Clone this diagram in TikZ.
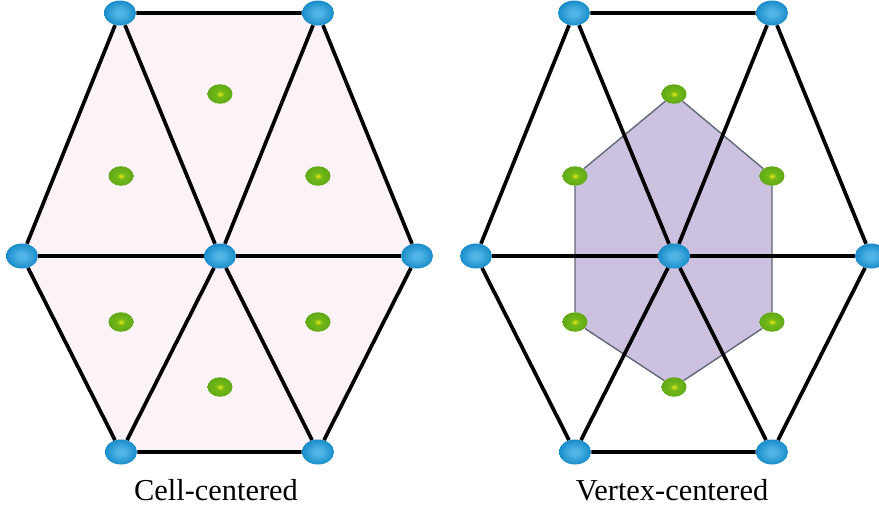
\documentclass[tikz,border=0pt]{standalone}
\usepackage{fontspec}
\setmainfont{Liberation Serif}
\usetikzlibrary{shapes.geometric,backgrounds}
\definecolor{vertexL}{RGB}{80,180,230}
\definecolor{vertexM}{RGB}{22,138,200}
\definecolor{vertexD}{RGB}{15,105,165}
\definecolor{centL}{RGB}{235,230,20}
\definecolor{centM}{RGB}{115,185,25}
\definecolor{centD}{RGB}{80,155,20}
\definecolor{centR}{RGB}{150,200,40}
\definecolor{cellfill}{RGB}{251,243,248}
\definecolor{dualfill}{RGB}{204,194,224}
\definecolor{dualedge}{RGB}{95,105,120}
\pgfdeclareradialshading{vertexball}{\pgfpoint{0bp}{0bp}}{color(0bp)=(vertexL); color(6bp)=(vertexL); color(26bp)=(vertexM); color(47bp)=(vertexD); color(50bp)=(vertexD)}
\pgfdeclareradialshading{centroidball}{\pgfpoint{0bp}{0bp}}{color(0bp)=(centL); color(8bp)=(centM); color(40bp)=(centD); color(47bp)=(centD); color(50bp)=(centR)}
\tikzset{
  vertex/.style={ellipse,minimum width=0.64cm,minimum height=0.5cm,inner sep=0pt,shading=vertexball},
  centroid/.style={ellipse,minimum width=0.5cm,minimum height=0.39cm,inner sep=0pt,shading=centroidball},
  meshline/.style={line width=2.1pt,black},
  dualline/.style={line width=0.8pt,dualedge},
  caption/.style={anchor=base,font=\fontsize{17.3}{20}\selectfont},
}

\begin{document}
\begin{tikzpicture}[x=0.02cm,y=-0.02cm]
  \useasboundingbox (0,0) rectangle (879,511);
  % mesh vertices
  \foreach \p/\dx in {a/0,b/454} {
    \node[vertex] (\p1) at (120+\dx,13)  {};
    \node[vertex] (\p2) at (318+\dx,13)  {};
    \node[vertex] (\p3) at (22+\dx,256)  {};
    \node[vertex] (\p0) at (220+\dx,256) {};
    \node[vertex] (\p4) at (417+\dx,256) {};
    \node[vertex] (\p5) at (121+\dx,452) {};
    \node[vertex] (\p6) at (318+\dx,452) {};
  }
  % cell centroids
  \foreach \p/\dx in {c/0,d/454} {
    \node[centroid] (\p1) at (220+\dx,94)  {};
    \node[centroid] (\p2) at (121+\dx,176) {};
    \node[centroid] (\p3) at (318+\dx,176) {};
    \node[centroid] (\p4) at (121+\dx,322) {};
    \node[centroid] (\p5) at (318+\dx,322) {};
    \node[centroid] (\p6) at (220+\dx,387) {};
  }
  \begin{pgfonlayer}{background}
    \fill[cellfill] (a1.center) -- (a2.center) -- (a4.center) -- (a6.center)
      -- (a5.center) -- (a3.center) -- cycle;
    \fill[dualfill] (d1.center) -- (d3.center) -- (d5.center) -- (d6.center)
      -- (d4.center) -- (d2.center) -- cycle;
  \end{pgfonlayer}
  % control volume
  \draw[dualline] (d1) -- (d3) -- (d5) -- (d6) -- (d4) -- (d2) -- (d1);
  % triangles
  \foreach \p in {a,b} {
    \draw[meshline] (\p1) -- (\p2) -- (\p4) -- (\p6) -- (\p5) -- (\p3) -- (\p1);
    \foreach \v in {1,...,6}
      \draw[meshline] (\p0) -- (\p\v);
  }
  \node[caption] (cc) at (216,500) {Cell-centered};
  \node[caption] (vc) at (672,500) {Vertex-centered};
\end{tikzpicture}
\end{document}
